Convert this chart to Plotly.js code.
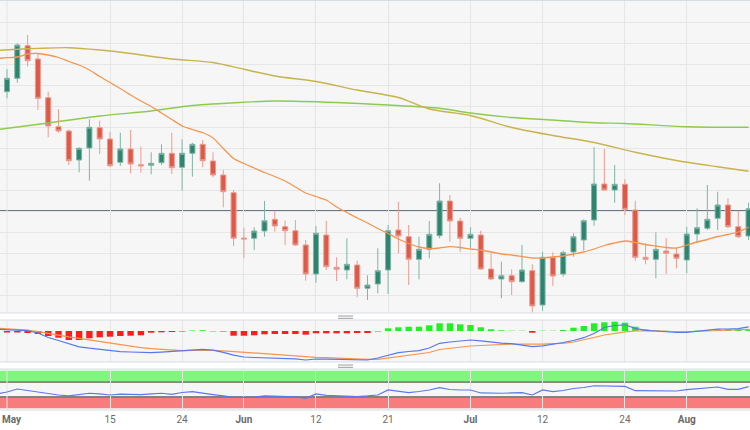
<!DOCTYPE html>
<html>
<head>
<meta charset="utf-8">
<script src="https://cdn.plot.ly/plotly-3.0.1.min.js"></script>
<style>
  html, body { margin: 0; padding: 0; background: #ffffff; }
  #chart { width: 750px; height: 430px; }
</style>
</head>
<body>
<div id="chart"></div>
<script>
// ---- Data (price in chart units; y-axis carries no labels in the reference) ----
const dates = ['2023-04-28','2023-05-01','2023-05-02','2023-05-03','2023-05-04','2023-05-05','2023-05-08','2023-05-09','2023-05-10','2023-05-11','2023-05-12','2023-05-15','2023-05-16','2023-05-17','2023-05-18','2023-05-19','2023-05-22','2023-05-23','2023-05-24','2023-05-25','2023-05-26','2023-05-29','2023-05-30','2023-05-31','2023-06-01','2023-06-02','2023-06-05','2023-06-06','2023-06-07','2023-06-08','2023-06-09','2023-06-12','2023-06-13','2023-06-14','2023-06-15','2023-06-16','2023-06-19','2023-06-20','2023-06-21','2023-06-22','2023-06-23','2023-06-26','2023-06-27','2023-06-28','2023-06-29','2023-06-30','2023-07-03','2023-07-04','2023-07-05','2023-07-06','2023-07-07','2023-07-10','2023-07-11','2023-07-12','2023-07-13','2023-07-14','2023-07-17','2023-07-18','2023-07-19','2023-07-20','2023-07-21','2023-07-24','2023-07-25','2023-07-26','2023-07-27','2023-07-28','2023-07-31','2023-08-01','2023-08-02','2023-08-03','2023-08-04','2023-08-07','2023-08-08','2023-08-09'];

const openP = [357, 308.3, 321.7, 354.3, 341, 302.3, 273.3, 269, 240, 252,
  272.3, 261, 237.7, 251, 235.3, 234.7, 237.3, 246.7, 232.7, 246.7,
  255.7, 239, 225, 207.3, 162, 161.7, 169, 180.7, 173.3, 169.3,
  155, 126, 165, 132.7, 130, 135, 111.7, 116, 130, 170,
  163.3, 140.7, 150.7, 164.3, 199, 179, 161.7, 165, 131, 121,
  124.3, 118.3, 129.3, 95, 142.3, 126, 148, 160, 180, 216,
  210, 215.7, 190, 142.7, 140.7, 149, 146, 140, 166, 171.7,
  181.7, 195, 173.3, 164];
const highP = [360, 330.7, 356.7, 365, 346.7, 308.3, 290.7, 270.7, 252.7, 280.7,
  279.3, 268.3, 267.3, 270, 253.3, 247.7, 255.7, 267.3, 260.7, 257.3,
  260, 247.7, 230, 210, 172.3, 172.7, 199, 189.3, 179.3, 180,
  160, 174, 179.3, 142.7, 161.7, 139.3, 124.7, 151.7, 175, 198.3,
  175, 163.3, 179, 216.7, 205, 182.3, 172.7, 169.3, 146.7, 138.3,
  130.7, 155, 135.7, 148.3, 147.7, 149.3, 166.7, 180.7, 252.7, 251,
  235, 220.7, 199.3, 156.7, 167.7, 161.7, 152.3, 173.3, 191.7, 215,
  208.3, 201.7, 189.3, 197.3];
const lowP = [310, 301.7, 317.3, 333.3, 290, 262.7, 267.3, 235, 227.7, 219.3,
  246, 232.7, 234, 226.7, 227.3, 225.7, 235, 226, 209.3, 223.3,
  232.7, 222.7, 192.7, 154, 141.7, 150, 163.3, 168.3, 155, 154,
  119.3, 117.3, 130, 119, 120.7, 102.7, 100, 106.7, 106, 146.7,
  115, 120.7, 141.7, 161.7, 158.3, 148.3, 151.7, 130, 120, 101.7,
  105, 117.3, 87.3, 89.3, 114, 123.3, 143.3, 149.3, 174.3, 209.3,
  197.3, 185, 139.3, 135.7, 121.7, 126, 131.7, 126.7, 156.7, 170,
  170, 171.7, 162, 160];
const closeP = [312, 321.7, 355, 339.3, 301.7, 274, 269, 239.3, 251.7, 272.7,
  261, 234.3, 251, 236, 234, 236.7, 246.7, 232.3, 246.7, 255.7,
  239.3, 225, 208.3, 161.7, 161, 169, 179.3, 174, 169.3, 155,
  126, 166.7, 133.3, 130.7, 135.7, 111.7, 115, 129.3, 169.3, 164,
  140.7, 150.7, 165.7, 199, 179, 161.7, 165.7, 131, 121, 124.3,
  118.3, 130, 94, 142.7, 124, 147.3, 163.3, 179.3, 216, 210,
  215.7, 190.7, 142.7, 140.7, 150.7, 146.7, 141.7, 166, 172.3, 180.7,
  195, 173.3, 163.3, 191.3];

// short moving average (orange), one value per session
const smaShort = [341.5, 342.3, 343, 346, 346.5, 345, 342.5, 338.5, 335, 330,
  323.5, 317.5, 311.5, 305, 299, 293.5, 287, 280.5, 274, 270.5,
  267.5, 262, 251.5, 241.5, 236.5, 232, 227.5, 223.5, 219, 213,
  207, 203.5, 200, 193, 187.5, 182, 177, 171.5, 166.5, 161,
  156.5, 153, 151.5, 152, 153.3, 152.5, 151, 150, 148, 146,
  145, 143.5, 142, 142, 143, 144, 146, 148, 151, 154.5,
  157, 159, 157.5, 155.5, 154, 152.5, 152, 155, 158, 160.5,
  163.5, 165.5, 168, 173];

// medium moving average (olive), read at selected sessions
const smaMidDates = ['2023-04-28','2023-05-02','2023-05-04','2023-05-09','2023-05-12','2023-05-17','2023-05-23','2023-05-29','2023-06-01','2023-06-06','2023-06-12','2023-06-16','2023-06-22','2023-06-27','2023-07-03','2023-07-07','2023-07-13','2023-07-19','2023-07-25','2023-07-31','2023-08-04','2023-08-09'];
const smaMid = [349.5, 350.7, 351.6, 352.3, 350, 346.5, 341, 337.5, 330.7, 324, 318.5, 310, 302.5, 291, 284.5, 272.5, 264.5, 257.5, 247.7, 239.5, 233.2, 228.7];

// long moving average (green), read at selected sessions
const smaLongDates = ['2023-04-28','2023-05-05','2023-05-12','2023-05-19','2023-05-25','2023-06-01','2023-06-06','2023-06-14','2023-06-21','2023-06-28','2023-07-03','2023-07-07','2023-07-13','2023-07-19','2023-07-24','2023-08-01','2023-08-09'];
const smaLong = [270.3, 277, 284, 289, 294.5, 297.8, 299, 297.5, 295, 291.7, 287, 282.5, 280, 277.3, 276.5, 273.3, 272.7];

const levelValue = 189;

// MACD panel
const macdHist = [-1, -1.5, -1.5, -2, -3, -5, -6.7, -9, -9, -7.3,
  -6.3, -5.7, -5, -4.7, -4.3, -1.7, -1.3, -1, -0.5, 0.5,
  0.8, -0.3, -0.5, -4.7, -4.7, -4.3, -3.3, -3, -3, -3,
  -3.7, -2.3, -2.3, -2.3, -2.3, -2, -2, -0.4, 2.7, 3.7,
  4.3, 4.3, 5.7, 7.7, 7.7, 6.7, 6, 3.7, 1.7, 0.7,
  0.3, 0.3, -1.7, 0.3, 0.3, 1, 3.3, 5, 7.7, 8.7,
  9.3, 8.3, 4.3, 1.7, 0.5, 0.3, -1, -0.3, 0.3, 1,
  2, 1.7, 1.7, 1.7];
const macdLine = [1.8, 1.2, 0.8, 0.4, -2, -6.5, -9.5, -12.8, -15.8, -17.2,
  -18.5, -20, -20.6, -21, -21.5, -21.7, -21.2, -20.6, -19.8, -18.9,
  -18.3, -19.2, -21.3, -24.2, -26, -26.5, -26.7, -26.9, -27.1, -27.8,
  -29, -28, -28.2, -28.4, -28.8, -29, -29, -27, -24, -21.7,
  -20.5, -19.6, -17, -12.3, -11, -10, -9, -9.8, -11.2, -12.2,
  -12.7, -14, -15.7, -14.8, -13.5, -11.5, -9.5, -6.7, -2.5, 3.5,
  5.5, 6.2, 2.7, 0.7, 0, -0.6, -1.5, -1.3, -0.2, 1,
  2, 2, 2.3, 4.1];
const signalLine = [2.8, 2.2, 1.8, 1, -0.6, -2.5, -4.2, -5.8, -7.3, -8.8,
  -10.6, -12.3, -13.8, -15.4, -16.6, -17.6, -18.3, -19, -19.6, -19.3,
  -19, -19.3, -19.8, -20.6, -21.4, -22.2, -23, -23.6, -24.3, -25,
  -25.7, -26.3, -26.7, -27.2, -27.7, -28.2, -28.3, -28.3, -27, -25.8,
  -24.6, -23.4, -21.5, -18.5, -17.2, -16, -15, -14.5, -14, -13,
  -13, -13.2, -13.3, -13.1, -12.6, -12.3, -11, -9, -6.5, -4,
  -2.3, -0.8, 0, 0.3, 0.1, -0.3, -0.5, -0.7, -0.5, 0,
  0.3, 0.5, 1, 1.7];

// RSI panel
const rsi = [38, 43.3, 51.3, 47.3, 43.3, 38, 35.3, 32.7, 36.7, 39.9,
  38, 35.3, 37.5, 36.7, 36.4, 38, 39.9, 37.2, 42, 44.1,
  39.3, 36.1, 32.7, 29.2, 28.7, 29.5, 32.7, 32.1, 32.1, 30,
  26.5, 38, 34, 32.7, 33.2, 30.8, 32.7, 35.3, 48.7, 45.2,
  41.5, 44.7, 48.7, 54.8, 50, 48.7, 48.7, 40.7, 39.9, 39.9,
  40.7, 41.5, 35.3, 48.7, 44.1, 47.3, 52.7, 55.3, 60.1, 59.3,
  59.3, 58.5, 46.8, 46.8, 47.9, 46.8, 46, 49.5, 51.3, 53.2,
  56.7, 50.5, 50.5, 57.5];
const rsiUpper = 70, rsiLower = 30;

// x-axis ticks (the first month label sits on the left edge and is drawn as an annotation)
const tickDates = ['2023-05-15','2023-05-24','2023-06-01','2023-06-12','2023-06-21','2023-07-03','2023-07-12','2023-07-24','2023-08-01'];
const tickLabels = ['15','24','<b>Jun</b>','12','21','<b>Jul</b>','12','24','<b>Aug</b>'];
const edgeTickDate = '2023-05-01';
const edgeTickLabel = '<b>May</b>';

// ---- Traces ----
const traces = [
  {
    type: 'candlestick', x: dates, open: openP, high: highP, low: lowP, close: closeP,
    xaxis: 'x', yaxis: 'y',
    increasing: { line: { color: '#7fb5a6', width: 1 }, fillcolor: '#2f8470' },
    decreasing: { line: { color: '#eb9c91', width: 1 }, fillcolor: '#dc5a48' },
    whiskerwidth: 0, hoverinfo: 'skip'
  },
  { type: 'scatter', mode: 'lines', x: smaLongDates, y: smaLong, xaxis: 'x', yaxis: 'y',
    line: { color: '#8ccb4e', width: 1.4, shape: 'spline', smoothing: 0.8 }, hoverinfo: 'skip' },
  { type: 'scatter', mode: 'lines', x: smaMidDates, y: smaMid, xaxis: 'x', yaxis: 'y',
    line: { color: '#c8b34c', width: 1.4, shape: 'spline', smoothing: 0.8 }, hoverinfo: 'skip' },
  { type: 'scatter', mode: 'lines', x: dates, y: smaShort, xaxis: 'x', yaxis: 'y',
    line: { color: '#f4964f', width: 1.3, shape: 'spline', smoothing: 0.6 }, hoverinfo: 'skip' },
  { type: 'bar', x: dates, y: macdHist, xaxis: 'x', yaxis: 'y2', width: 0.62,
    marker: { color: macdHist.map(v => v >= 0 ? '#26ee26' : '#ff1c1c') }, hoverinfo: 'skip' },
  { type: 'scatter', mode: 'lines', x: dates, y: signalLine, xaxis: 'x', yaxis: 'y2',
    line: { color: '#f4964f', width: 1.2 }, hoverinfo: 'skip' },
  { type: 'scatter', mode: 'lines', x: dates, y: macdLine, xaxis: 'x', yaxis: 'y2',
    line: { color: '#5878ee', width: 1.2 }, hoverinfo: 'skip' },
  { type: 'scatter', mode: 'lines', x: dates, y: rsi, xaxis: 'x', yaxis: 'y3',
    line: { color: '#5a78f0', width: 1.2 }, hoverinfo: 'skip' }
];

// ---- Layout ----
const H = 410; // plot-area height in px
const py = v => (H - v) / H; // pixel row -> paper fraction
const border = '#d6dce6';
const shapes = [
  { type: 'line', xref: 'paper', yref: 'y', x0: 0, x1: 1, y0: levelValue, y1: levelValue,
    line: { color: '#66758e', width: 1.8 }, layer: 'between' },
  { type: 'rect', xref: 'paper', yref: 'y3', x0: 0, x1: 1, y0: rsiUpper, y1: 100,
    fillcolor: '#7ef77c', line: { width: 0 }, layer: 'between' },
  { type: 'rect', xref: 'paper', yref: 'y3', x0: 0, x1: 1, y0: 0, y1: rsiLower,
    fillcolor: '#f87c7c', line: { width: 0 }, layer: 'between' },
  { type: 'line', xref: 'paper', yref: 'y3', x0: 0, x1: 1, y0: rsiUpper, y1: rsiUpper,
    line: { color: '#5e5e5e', width: 1.3 }, layer: 'between' },
  { type: 'line', xref: 'paper', yref: 'y3', x0: 0, x1: 1, y0: rsiLower, y1: rsiLower,
    line: { color: '#5e5e5e', width: 1.3 }, layer: 'between' },
  // vertical grid line for the edge tick (its label is an annotation)
  { type: 'line', xref: 'x', yref: 'paper', x0: edgeTickDate, x1: edgeTickDate, y0: py(313), y1: 1,
    line: { color: '#e6e6e6', width: 1 }, layer: 'below' },
  { type: 'line', xref: 'x', yref: 'paper', x0: edgeTickDate, x1: edgeTickDate, y0: py(362), y1: py(320),
    line: { color: '#e6e6e6', width: 1 }, layer: 'below' },
  { type: 'line', xref: 'x', yref: 'paper', x0: edgeTickDate, x1: edgeTickDate, y0: 0, y1: py(369),
    line: { color: '#e6e6e6', width: 1 }, layer: 'below' }
];
[0.5, 313, 320, 362, 369, 410].forEach(p => shapes.push({
  type: 'line', xref: 'paper', yref: 'paper', x0: 0, x1: 1, y0: py(p), y1: py(p),
  line: { color: border, width: 1 }
}));
[316, 318.3, 365, 367.3].forEach(p => shapes.push({
  type: 'line', xref: 'paper', yref: 'paper', x0: 338 / 750, x1: 353 / 750, y0: py(p), y1: py(p),
  line: { color: '#9c9c9c', width: 1 }
}));

const layout = {
  width: 750, height: 430,
  margin: { l: 0, r: 0, t: 0, b: 20, pad: 0 },
  paper_bgcolor: '#ffffff', plot_bgcolor: '#f6f6f6',
  showlegend: false, dragmode: false,
  font: { family: 'Roboto, "Open Sans", sans-serif', size: 10, color: '#6a6a6a' },
  xaxis: {
    type: 'category', anchor: 'y3', range: [0.32, 73.14],
    tickmode: 'array', tickvals: tickDates, ticktext: tickLabels,
    showgrid: true, gridcolor: '#e6e6e6', gridwidth: 1,
    zeroline: false, showline: false, ticks: '', ticklabelstandoff: 2,
    rangeslider: { visible: false }, fixedrange: true,
    tickfont: { size: 10, color: '#6a6a6a' }
  },
  yaxis: {
    domain: [py(313), 1], range: [87, 400], tick0: 0, dtick: 21,
    showgrid: true, gridcolor: '#e6e6e6', showticklabels: false, zeroline: false, ticks: '', fixedrange: true
  },
  yaxis2: {
    domain: [py(362), py(320)], range: [-31, 11],
    showgrid: false, showticklabels: false, zeroline: false, ticks: '', fixedrange: true
  },
  yaxis3: {
    domain: [0, py(369)], range: [-5, 105],
    showgrid: false, showticklabels: false, zeroline: false, ticks: '', fixedrange: true
  },
  annotations: [{
    text: edgeTickLabel, xref: 'paper', yref: 'paper', x: 0, y: py(419.5),
    xanchor: 'left', yanchor: 'middle', showarrow: false,
    font: { size: 10, color: '#6a6a6a' }
  }],
  bargap: 0.3,
  shapes: shapes
};

Plotly.newPlot('chart', traces, layout, { displayModeBar: false, staticPlot: true });
</script>
</body>
</html>
